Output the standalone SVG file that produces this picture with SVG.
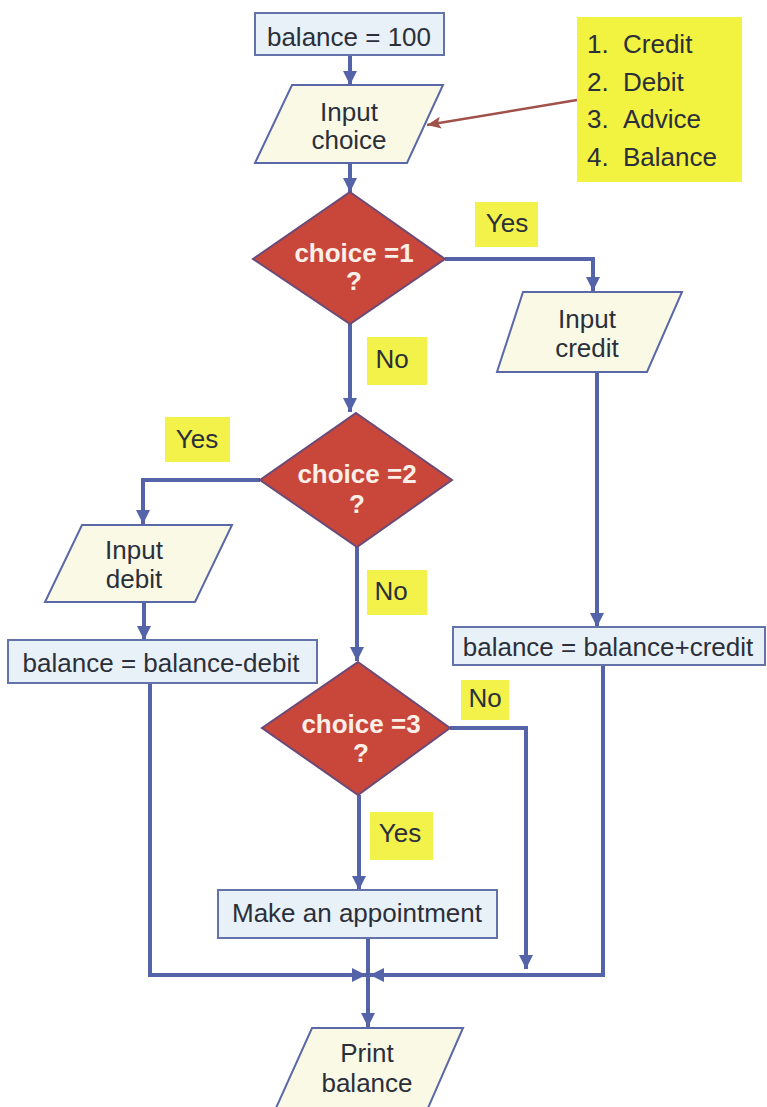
<svg xmlns="http://www.w3.org/2000/svg" width="767" height="1107" viewBox="0 0 767 1107">
<style>
text{font-family:"Liberation Sans",Arial,sans-serif;font-size:26px;fill:#2b2f3a;text-anchor:middle}
.box{fill:#e9f1f8;stroke:#6372a8;stroke-width:2}
.io{fill:#f9f9e6;stroke:#5a68a8;stroke-width:2}
.dec{fill:#c8473a;stroke:#6a4a78;stroke-width:2}
.dt{fill:#fbefe8;font-weight:bold}
.lab{fill:#f2f24a}
.con{fill:none;stroke:#5563a8;stroke-width:4;marker-end:url(#ah)}
.note{fill:#f2f240}
</style>
<defs>
<marker id="ah" markerUnits="userSpaceOnUse" markerWidth="16" markerHeight="16" refX="14" refY="7" orient="auto">
<path d="M0,0 L14,7 L0,14 Z" fill="#5563a8"/>
</marker>
<marker id="ahr" markerUnits="userSpaceOnUse" markerWidth="16" markerHeight="16" refX="14" refY="7" orient="auto">
<path d="M0,1 L14,7 L0,13 L3,7 Z" fill="#a0524a"/>
</marker>
</defs>
<rect width="767" height="1107" fill="#ffffff"/>
<g id="connectors">
<path class="con" d="M350,55 V85"/>
<path class="con" d="M350,163 V192"/>
<path class="con" d="M445,259 H593 V291"/>
<path class="con" d="M350,323 V412"/>
<path class="con" d="M260,480 H143 V524"/>
<path class="con" d="M144,602 V640"/>
<path class="con" d="M357,547 V661"/>
<path class="con" d="M597,372 V627"/>
<path class="con" d="M450,728 H526 V969"/>
<path class="con" d="M359,795 V890"/>
<path class="con" d="M368,938 V1027"/>
<path class="con" d="M150,683 V975 H366"/>
<path class="con" d="M603,665 V975 H370"/>
<path d="M577,100 L427,125" fill="none" stroke="#a0524a" stroke-width="2.5" marker-end="url(#ahr)"/>
</g>
<g id="note">
<rect class="note" x="577" y="17" width="165" height="165"/>
<text x="587" y="53" style="text-anchor:start">1.</text><text x="623" y="53" style="text-anchor:start">Credit</text>
<text x="587" y="91" style="text-anchor:start">2.</text><text x="623" y="91" style="text-anchor:start">Debit</text>
<text x="587" y="128" style="text-anchor:start">3.</text><text x="623" y="128" style="text-anchor:start">Advice</text>
<text x="587" y="166" style="text-anchor:start">4.</text><text x="623" y="166" style="text-anchor:start">Balance</text>
</g>
<g id="n-init">
<rect class="box" x="255" y="13" width="189" height="42"/>
<text x="349" y="46">balance = 100</text>
</g>
<g id="n-input-choice">
<path class="io" d="M292,85 H443 L407,163 H255 Z"/>
<text x="349" y="121">Input</text>
<text x="349" y="149">choice</text>
</g>
<g id="n-dec1">
<path class="dec" d="M350,192 L445,259 L350,324 L253,259 Z"/>
<text class="dt" x="354" y="262">choice =1</text>
<text class="dt" x="354" y="290">?</text>
</g>
<g id="l-yes1">
<rect class="lab" x="475" y="202" width="63" height="45"/>
<text x="507" y="232">Yes</text>
</g>
<g id="l-no1">
<rect class="lab" x="367" y="337" width="60" height="48"/>
<text x="392" y="368">No</text>
</g>
<g id="n-input-credit">
<path class="io" d="M523,292 H682 L647,372 H497 Z"/>
<text x="587" y="328">Input</text>
<text x="587" y="357">credit</text>
</g>
<g id="n-dec2">
<path class="dec" d="M356,413 L452,480 L357,547 L260,480 Z"/>
<text class="dt" x="357" y="483">choice =2</text>
<text class="dt" x="357" y="513">?</text>
</g>
<g id="l-yes2">
<rect class="lab" x="165" y="417" width="65" height="45"/>
<text x="197" y="448">Yes</text>
</g>
<g id="n-input-debit">
<path class="io" d="M82,525 H232 L195,602 H45 Z"/>
<text x="134" y="559">Input</text>
<text x="134" y="588">debit</text>
</g>
<g id="n-debit">
<rect class="box" x="8" y="640" width="309" height="43"/>
<text x="161" y="672">balance = balance-debit</text>
</g>
<g id="l-no2">
<rect class="lab" x="367" y="570" width="60" height="45"/>
<text x="391" y="600">No</text>
</g>
<g id="n-credit">
<rect class="box" x="453" y="627" width="312" height="38"/>
<text x="608" y="656">balance = balance+credit</text>
</g>
<g id="n-dec3">
<path class="dec" d="M358,662 L450,728 L358,795 L262,728 Z"/>
<text class="dt" x="361" y="733">choice =3</text>
<text class="dt" x="361" y="762">?</text>
</g>
<g id="l-no3">
<rect class="lab" x="461" y="680" width="48" height="40"/>
<text x="485" y="707">No</text>
</g>
<g id="l-yes3">
<rect class="lab" x="370" y="812" width="63" height="48"/>
<text x="400" y="842">Yes</text>
</g>
<g id="n-appt">
<rect class="box" x="218" y="890" width="279" height="48"/>
<text x="357" y="922">Make an appointment</text>
</g>
<g id="n-print">
<path class="io" d="M312,1028 H463 L428,1108 H276 Z"/>
<text x="367" y="1062">Print</text>
<text x="367" y="1092">balance</text>
</g>
</svg>
